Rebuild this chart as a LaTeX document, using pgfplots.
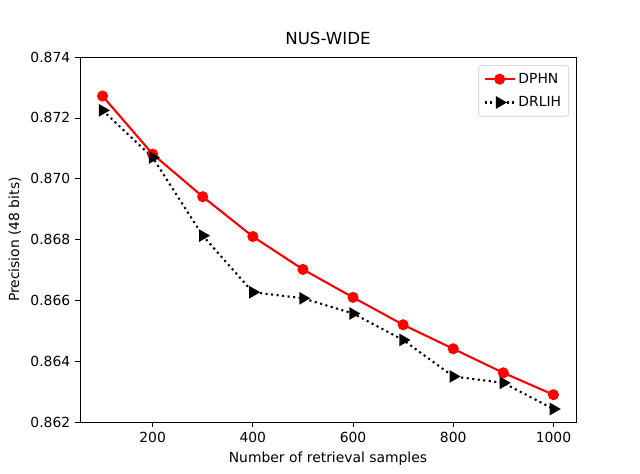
\documentclass[border=0pt]{standalone}
\usepackage{pgfplots}
\pgfplotsset{compat=1.18}
\usepackage{fontspec}
\setmainfont{DejaVu Sans}
\begin{document}
\begin{tikzpicture}
\begin{axis}[
  at={(0,0)}, anchor=south west,
  scale only axis, width=357.1pt, height=262.8pt,
  xmin=55, xmax=1045, ymin=0.862, ymax=0.874,
  xtick={200,400,600,800,1000},
  ytick={0.862,0.864,0.866,0.868,0.870,0.872,0.874},
  scaled y ticks=false,
  xticklabel style={/pgf/number format/.cd, 1000 sep={}},
  yticklabel style={/pgf/number format/.cd, fixed, fixed zerofill, precision=3},
  /pgf/number format/assume math mode=true,
  tick align=outside, tick pos=left, major tick length=3.5pt,
  tick style={black, line width=0.6pt},
  axis line style={line width=0.6pt},
  ticklabel style={font=\fontsize{10}{12}\selectfont},
  label style={font=\fontsize{10}{12}\selectfont},
  xlabel={Number of retrieval samples},
  ylabel={Precision (48 bits)},
  title={NUS-WIDE},
  title style={font=\fontsize{12}{14}\selectfont, yshift=-1pt},
  legend cell align=left,
  legend style={font=\fontsize{10}{12}\selectfont, draw=black!20, rounded corners=2pt,
    at={(1,1)}, anchor=north east, xshift=-5pt, yshift=-5.8pt,
    inner xsep=3.5pt, inner ysep=3.5pt, row sep=4pt},
  legend image code/.code={
    \draw[mark repeat=2, mark phase=2, #1] plot coordinates {(0cm,0cm) (0.38cm,0cm) (0.76cm,0cm)};
  },
]
\addplot[red, line width=1.5pt, mark=*, mark size=3.2pt, mark options={solid, fill=red}] coordinates {
(100,0.87272) (200,0.87081) (300,0.86941) (400,0.86810) (500,0.86702) (600,0.86610) (700,0.86520) (800,0.86441) (900,0.86362) (1000,0.86290)};
\addlegendentry{DPHN}
\addplot[black, line width=1.5pt, dash pattern=on 1.5pt off 2.5pt, mark=triangle*, mark size=3.8pt, mark options={solid, rotate=-90, fill=black}] coordinates {
(100,0.87225) (200,0.87070) (300,0.86813) (400,0.86627) (500,0.86607) (600,0.86557) (700,0.86470) (800,0.86350) (900,0.86329) (1000,0.86243)};
\addlegendentry{DRLIH}
\end{axis}
\useasboundingbox (-57.6pt,-36.7pt) rectangle (403.2pt,303.9pt);
\end{tikzpicture}
\end{document}
